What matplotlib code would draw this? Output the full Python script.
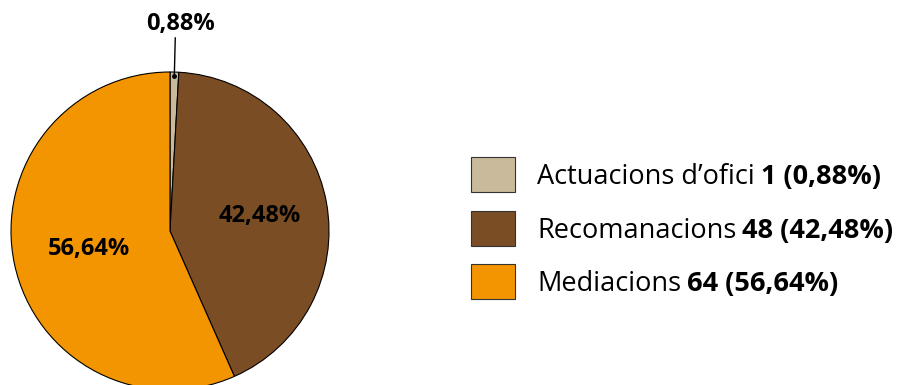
import matplotlib
matplotlib.use("Agg")
import matplotlib.pyplot as plt
from matplotlib.patches import Rectangle
from matplotlib.transforms import offset_copy
import numpy as np

categories = ["Actuacions d\u2019ofici", "Recomanacions", "Mediacions"]
counts = [1, 48, 64]
percent_labels = ["0,88%", "42,48%", "56,64%"]
colors = ["#C9BA9B", "#7B4D25", "#F39500"]

plt.rcParams['font.family'] = ['Open Sans', 'DejaVu Sans']

W, H = 902, 385
fig = plt.figure(figsize=(W / 100, H / 100), dpi=100)

# pie axes: centre (170, 231) px, radius 159 px
cx, cy, R = 170, 231, 159
ax = fig.add_axes([(cx - R) / W, (H - cy - R) / H, 2 * R / W, 2 * R / H])
wedges, _ = ax.pie(counts, colors=colors, startangle=90, counterclock=False,
                   radius=1.0, wedgeprops=dict(edgecolor="black", linewidth=0.8))
ax.set_xlim(-1, 1)
ax.set_ylim(-1, 1)
ax.set_aspect('equal')
ax.axis('off')
for w in wedges:
    w.set_clip_on(False)

# labels inside the two big wedges (baseline placed ~7px below the anchor)
lab_tr = offset_copy(ax.transData, fig=fig, x=0, y=-7, units='dots')
for w, lab, dist in zip(wedges[1:], percent_labels[1:], [0.575, 0.52]):
    ang = np.deg2rad((w.theta1 + w.theta2) / 2)
    ax.text(dist * np.cos(ang), dist * np.sin(ang), lab, ha='center', va='baseline',
            fontsize=17, fontweight='bold', color='black', transform=lab_tr)

# small wedge label with leader line
w0 = wedges[0]
ang0 = np.deg2rad((w0.theta1 + w0.theta2) / 2)
px, py = 0.975 * np.cos(ang0), 0.975 * np.sin(ang0)
ax.plot([px], [py], 'o', color='black', markersize=2.5, clip_on=False)
ax.plot([px, px + 0.006], [py, 1.214], color='black', lw=1.0, clip_on=False)
ax.text(0.063, 1.264, percent_labels[0], ha='center', va='baseline',
        fontsize=17, fontweight='bold', color='black', clip_on=False)

# legend drawn manually
sw, sh = 44, 35
x0 = 471
row_centres = [174.5, 228.5, 281.5]
renderer = fig.canvas.get_renderer()
for cat, n, pl, col, yc in zip(categories, counts, percent_labels, colors, row_centres):
    fig.patches.append(Rectangle((x0 / W, (H - yc - sh / 2) / H), sw / W, sh / H,
                                 transform=fig.transFigure, facecolor=col,
                                 edgecolor='#333333', linewidth=0.8))
    t = fig.text(537 / W, (H - yc - 9.5) / H, cat, ha='left', va='baseline',
                 fontsize=19.5, color='black')
    bb = t.get_window_extent(renderer=renderer)
    fig.text((bb.x1 + 6) / W, (H - yc - 9.5) / H, f"{n} ({pl})", ha='left',
             va='baseline', fontsize=19.5, fontweight='bold', color='black')

fig.savefig("out.png", dpi=100, facecolor='white')
